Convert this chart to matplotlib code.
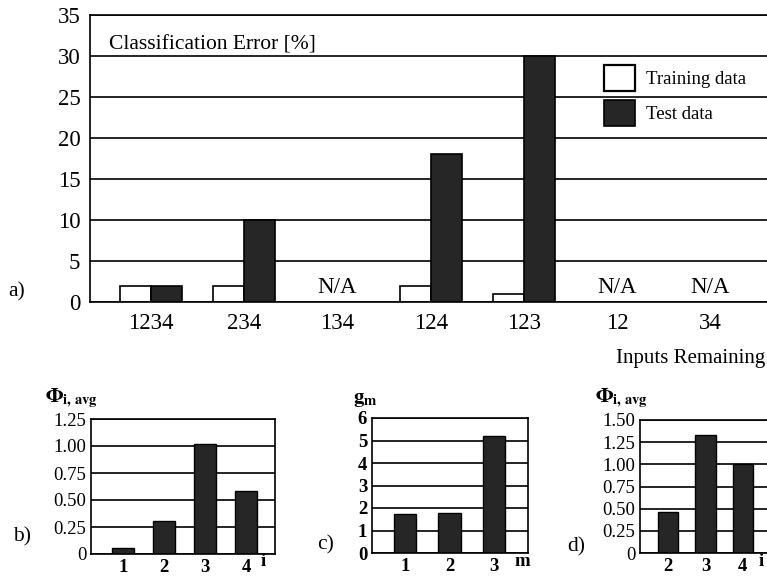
import numpy as np
import matplotlib
matplotlib.use('Agg')
import matplotlib.pyplot as plt
from matplotlib.patches import Patch

plt.rcParams['font.family'] = ['Liberation Serif', 'DejaVu Serif']
plt.rcParams['mathtext.fontset'] = 'stix'

# a) classification error
inputs = ['1234', '234', '134', '124', '123', '12', '34']
train_err = [2, 2, np.nan, 2, 1, np.nan, np.nan]
test_err = [2, 10, np.nan, 18, 30, np.nan, np.nan]

# b) average phi per input
b_inputs = [1, 2, 3, 4]
b_phi = [0.06, 0.31, 1.02, 0.58]

# c) g_m per module
c_modules = [1, 2, 3]
c_g = [1.75, 1.8, 5.2]

# d) average phi, inputs 2-4
d_inputs = [2, 3, 4]
d_phi = [0.46, 1.33, 1.0]

W, H = 767, 579
fig = plt.figure(figsize=(W / 100, H / 100), dpi=100)
dark = '#262626'


def px_axes(l, t, r, b):
    return fig.add_axes([l / W, 1 - b / H, (r - l) / W, (b - t) / H])


def style(ax, ticks, fs):
    ax.set_yticks(ticks)
    ax.yaxis.grid(True, color='black', linewidth=1.2)
    ax.set_axisbelow(True)
    ax.tick_params(length=0, labelsize=fs)
    for s in ax.spines.values():
        s.set_linewidth(1.2)


# ---- panel a ----
ax = px_axes(90, 15, 768, 302)
x = np.arange(len(inputs))
w = 0.333
ax.bar(x - w / 2, train_err, w, color='white', edgecolor='black', linewidth=1.2)
ax.bar(x + w / 2, test_err, w, color=dark, edgecolor='black', linewidth=1.2)
for i, v in enumerate(test_err):
    if np.isnan(v):
        ax.text(i, 0.5, 'N/A', ha='center', va='bottom', fontsize=16.5)
ax.set_xlim(-0.656, 6.62)
ax.set_ylim(0, 35)
style(ax, np.arange(0, 36, 5), 16.5)
ax.tick_params(axis='y', pad=7)
ax.set_xticks(x)
ax.set_xticklabels(inputs)
ax.tick_params(axis='x', pad=8)
ax.text(0.028, 0.895, 'Classification Error [%]', transform=ax.transAxes,
        fontsize=15.5, va='center')
handles = [Patch(facecolor='white', edgecolor='black', linewidth=1.6),
           Patch(facecolor=dark, edgecolor='black', linewidth=1.2)]
ax.legend(handles, ['Training data', 'Test data'], loc='upper left',
          bbox_to_anchor=(0.733, 0.885), frameon=False, fontsize=13.5,
          handlelength=1.65, handleheight=1.75, labelspacing=0.5,
          handletextpad=0.6)
fig.text(8 / W, 1 - 292 / H, 'a)', fontsize=15.5, va='center')
fig.text(765 / W, 1 - 358 / H, 'Inputs Remaining', fontsize=15,
         ha='right', va='center')

# ---- panel b ----
ax = px_axes(91, 419, 275, 554)
ax.bar(b_inputs, b_phi, 0.53, color=dark, edgecolor='black')
ax.set_xlim(0.22, 4.7)
ax.set_ylim(0, 1.25)
style(ax, [0, 0.25, 0.5, 0.75, 1.0, 1.25], 13.5)
ax.set_yticklabels(['0', '0.25', '0.50', '0.75', '1.00', '1.25'])
ax.set_xticks(b_inputs)
ax.set_xticklabels([str(v) for v in b_inputs], fontweight='bold')
fig.text(263 / W, 1 - 562 / H, 'i', fontsize=13.5, fontweight='bold',
         ha='center', va='center')
fig.text(45 / W, 1 - 402 / H, r'$\mathbf{\Phi}_{\mathbf{i,\,avg}}$', fontsize=15)
fig.text(13 / W, 1 - 537 / H, 'b)', fontsize=15.5, va='center')

# ---- panel c ----
ax = px_axes(372, 418, 528, 553)
ax.bar(c_modules, c_g, 0.5, color=dark, edgecolor='black')
ax.set_xlim(0.26, 3.76)
ax.set_ylim(0, 6)
style(ax, range(0, 7), 13.5)
for lab in ax.get_yticklabels():
    lab.set_fontweight('bold')
ax.set_xticks(c_modules)
ax.set_xticklabels([str(v) for v in c_modules], fontweight='bold')
fig.text(522 / W, 1 - 562 / H, 'm', fontsize=13.5, fontweight='bold',
         ha='center', va='center')
fig.text(353 / W, 1 - 403 / H, r'$\mathbf{g}_{\mathbf{m}}$', fontsize=15)
fig.text(317 / W, 1 - 545 / H, 'c)', fontsize=15.5, va='center')

# ---- panel d ----
ax = px_axes(640, 420, 768, 553)
ax.bar(d_inputs, d_phi, 0.54, color=dark, edgecolor='black')
ax.set_xlim(1.24, 4.68)
ax.set_ylim(0, 1.5)
style(ax, [0, 0.25, 0.5, 0.75, 1.0, 1.25, 1.5], 13.5)
ax.set_yticklabels(['0', '0.25', '0.50', '0.75', '1.00', '1.25', '1.50'])
ax.set_xticks(d_inputs)
ax.set_xticklabels([str(v) for v in d_inputs], fontweight='bold')
fig.text(761 / W, 1 - 562 / H, 'i', fontsize=13.5, fontweight='bold',
         ha='center', va='center')
fig.text(595 / W, 1 - 402 / H, r'$\mathbf{\Phi}_{\mathbf{i,\,avg}}$', fontsize=15)
fig.text(567 / W, 1 - 547 / H, 'd)', fontsize=15.5, va='center')

fig.savefig('out.png', dpi=100)
